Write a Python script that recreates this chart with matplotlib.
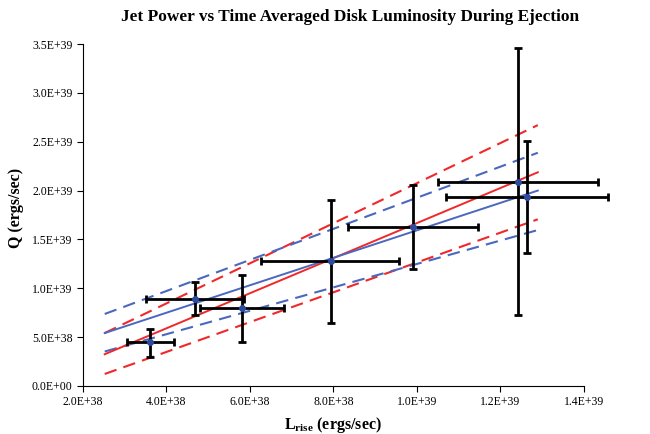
import matplotlib

matplotlib.use("Agg")
import matplotlib.pyplot as plt
from matplotlib.ticker import FuncFormatter, MultipleLocator

plt.rcParams["font.family"] = "Liberation Serif"
plt.rcParams["mathtext.fontset"] = "custom"
plt.rcParams["mathtext.rm"] = "Liberation Serif:bold"
plt.rcParams["mathtext.bf"] = "Liberation Serif:bold"

# data points: L_rise, Q and asymmetric error bars
l_rise = [3.61e38, 4.69e38, 5.81e38, 7.95e38, 9.91e38, 1.243e39, 1.264e39]
q_jet = [0.453e39, 0.89e39, 0.795e39, 1.279e39, 1.63e39, 2.09e39, 1.937e39]
l_lo = [3.05e38, 3.50e38, 4.80e38, 6.27e38, 8.34e38, 1.05e39, 1.07e39]
l_hi = [4.19e38, 5.87e38, 6.82e38, 9.58e38, 1.146e39, 1.435e39, 1.459e39]
q_lo = [0.30e39, 0.727e39, 0.45e39, 0.64e39, 1.20e39, 0.727e39, 1.36e39]
q_hi = [0.58e39, 1.06e39, 1.14e39, 1.90e39, 2.06e39, 3.46e39, 2.51e39]

# fit lines, evaluated at both ends of the fit range
fit_x = [2.52e38, 1.29e39]
red_fit = [0.325e39, 2.187e39]
red_upper = [0.542e39, 2.67e39]
red_lower = [0.123e39, 1.706e39]
blue_fit = [0.542e39, 2.0e39]
blue_upper = [0.737e39, 2.387e39]
blue_lower = [0.353e39, 1.596e39]

RED = "#f0282a"
BLUE = "#4a68bd"

fig = plt.figure(figsize=(6.5, 4.34), dpi=100)
ax = fig.add_axes([0.1277, 0.1106, 0.7703, 0.788])

dash = (0, (6, 3.5))
ax.plot(fit_x, red_upper, color=RED, lw=1.5, linestyle=dash)
ax.plot(fit_x, red_lower, color=RED, lw=1.5, linestyle=dash)
ax.plot(fit_x, blue_upper, color=BLUE, lw=1.5, linestyle=dash)
ax.plot(fit_x, blue_lower, color=BLUE, lw=1.5, linestyle=dash)
ax.plot(fit_x, red_fit, color=RED, lw=1.4)
ax.plot(fit_x, blue_fit, color=BLUE, lw=1.4)

xerr = [[x - lo for x, lo in zip(l_rise, l_lo)], [hi - x for x, hi in zip(l_rise, l_hi)]]
yerr = [[q - lo for q, lo in zip(q_jet, q_lo)], [hi - q for q, hi in zip(q_jet, q_hi)]]
eb = ax.errorbar(l_rise, q_jet, xerr=xerr, yerr=yerr, fmt="o", color="#2e4a9e", ms=4,
                 ecolor="black", elinewidth=2, capsize=2.8, capthick=2, zorder=3)
for artist in eb.lines[1] + eb.lines[2]:
    artist.set_clip_on(False)

ax.set_xlim(2.0e38, 1.4e39)
ax.set_ylim(0, 3.5e39)
ax.xaxis.set_major_locator(MultipleLocator(2.0e38))
ax.yaxis.set_major_locator(MultipleLocator(0.5e39))
sci = FuncFormatter(lambda v, _: f"{v:.1E}")
ax.xaxis.set_major_formatter(sci)
ax.yaxis.set_major_formatter(sci)
ax.tick_params(direction="out", length=4, width=0.8, labelsize=8.5)
for side in ("top", "right"):
    ax.spines[side].set_visible(False)

fig.text(350 / 650, 1 - 17 / 434, "Jet Power vs Time Averaged Disk Luminosity During Ejection",
         ha="center", va="center", fontsize=12.4, weight="bold")
ax.set_xlabel(r"$\mathbf{L_{rise}}$ (ergs/sec)", fontsize=11.5, weight="bold", va="center")
ax.xaxis.set_label_coords(0.5, -0.113)
ax.set_ylabel("Q (ergs/sec)", fontsize=11.5, weight="bold", va="center")
ax.yaxis.set_label_coords(-0.134, 0.52)

fig.savefig("out.png", dpi=100)
